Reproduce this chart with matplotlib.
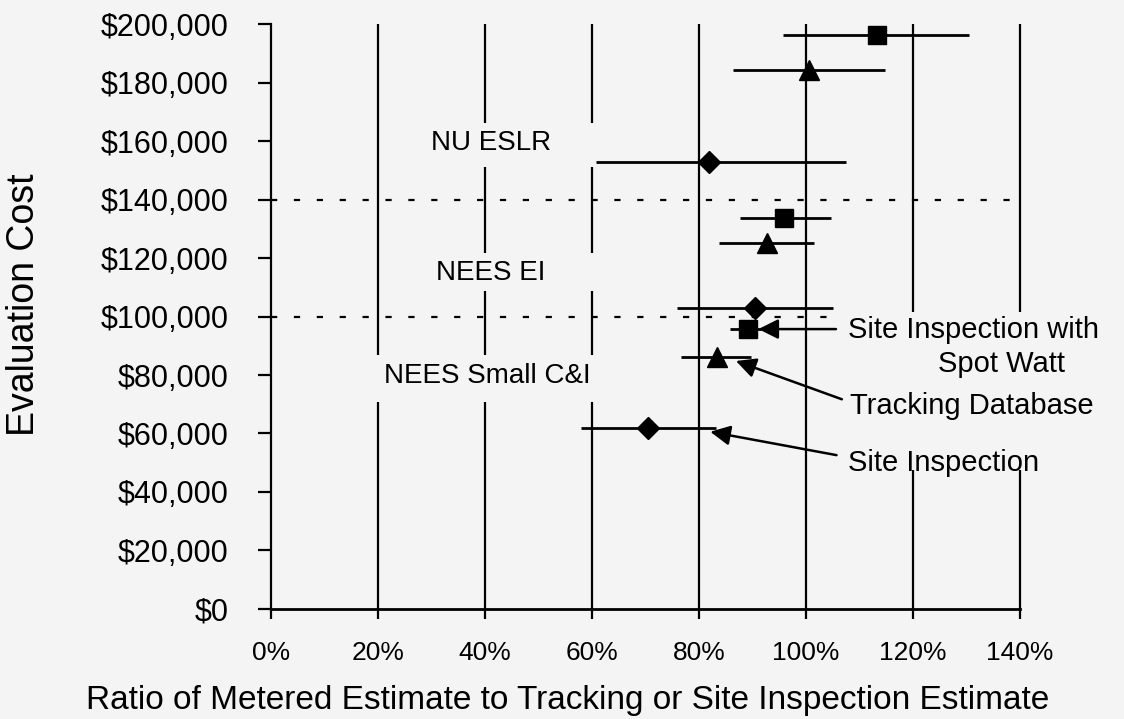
import matplotlib.pyplot as plt
from matplotlib.patches import Rectangle
from matplotlib.ticker import FuncFormatter

plt.rcParams['font.family'] = ['Liberation Sans', 'DejaVu Sans']

BG = '#f4f4f4'

# evaluation cost ($) vs ratio of metered estimate, with low/high range
# site inspection with spot watt (squares)
spot_cost = [196300, 133600, 95700]
spot_ratio = [1.132, 0.959, 0.892]
spot_lo = [0.957, 0.877, 0.858]
spot_hi = [1.305, 1.047, 0.915]

# tracking database (triangles)
track_cost = [184300, 125200, 86000]
track_ratio = [1.006, 0.927, 0.833]
track_lo = [0.864, 0.838, 0.767]
track_hi = [1.148, 1.015, 0.898]

# site inspection (diamonds)
site_cost = [152800, 103000, 62000]
site_ratio = [0.818, 0.905, 0.705]
site_lo = [0.607, 0.758, 0.579]
site_hi = [1.074, 1.050, 0.832]

programs = ['NU ESLR', 'NEES EI', 'NEES Small C&I']
program_breaks = [140000, 100000]

x_ticks = [0.0, 0.2, 0.4, 0.6, 0.8, 1.0, 1.2, 1.4]
y_ticks = list(range(0, 200001, 20000))

fig = plt.figure(figsize=(11.24, 7.19), dpi=100, facecolor=BG)
ax = fig.add_axes([0.2411, 0.1530, 0.6664, 0.8136], facecolor=BG)
ax.set_xlim(0, 1.4)
ax.set_ylim(0, 200000)

# vertical grid
ax.vlines(x_ticks[1:], 0, 200000, colors='black', lw=1.6, zorder=0.5, clip_on=False)
# dotted separators between programs
for yb in program_breaks:
    ax.plot([0, 1.4], [yb, yb], color='black', lw=1.6, ls=(0, (2.8, 7.5)), zorder=0.6)

# blank boxes behind the labels
masks = [(0.22, 151000, 0.40, 15200),
         (0.22, 108700, 0.40, 13000),
         (0.18, 70800, 0.45, 16000),
         (1.046, 47500, 0.60, 54000)]
for (mx, my, mw, mh) in masks:
    ax.add_patch(Rectangle((mx, my), mw, mh, facecolor=BG, edgecolor='none',
                           zorder=1, clip_on=False))

def bars(r, c, lo, hi, marker, ms):
    err = [[a - b for a, b in zip(r, lo)], [b - a for a, b in zip(r, hi)]]
    ax.errorbar(r, c, xerr=err, fmt=marker, ms=ms, color='black', mec='black',
                elinewidth=2.0, capsize=0, zorder=3)

bars(spot_ratio, spot_cost, spot_lo, spot_hi, 's', 13.5)
bars(track_ratio, track_cost, track_lo, track_hi, '^', 14)
bars(site_ratio, site_cost, site_lo, site_hi, 'D', 11)

# program labels
label_pos = [(0.411, 156900), (0.410, 112500), (0.404, 77300)]
for name, (lx, ly) in zip(programs, label_pos):
    ax.text(lx, ly, name, ha='center', va='baseline', fontsize=20, zorder=4)

# method annotations
arrow = dict(arrowstyle='-|>,head_length=0.6,head_width=0.3', color='black',
             lw=1.8, mutation_scale=20, shrinkA=0, shrinkB=0)
ax.annotate('', xy=(0.911, 95700), xytext=(1.056, 95700), arrowprops=arrow, zorder=4)
ax.annotate('', xy=(0.869, 84800), xytext=(1.067, 71700), arrowprops=arrow, zorder=4)
ax.annotate('', xy=(0.821, 60600), xytext=(1.057, 52600), arrowprops=arrow, zorder=4)

ax.text(1.079, 92800, 'Site Inspection with', fontsize=21, va='baseline', zorder=4, clip_on=False)
ax.text(1.247, 81000, 'Spot Watt', fontsize=21, va='baseline', zorder=4, clip_on=False)
ax.text(1.082, 66700, 'Tracking Database', fontsize=21, va='baseline', zorder=4, clip_on=False)
ax.text(1.079, 47200, 'Site Inspection', fontsize=21, va='baseline', zorder=4, clip_on=False)

ax.set_xticks(x_ticks)
ax.set_yticks(y_ticks)
ax.xaxis.set_major_formatter(FuncFormatter(lambda v, p: '%d%%' % round(v * 100)))
ax.yaxis.set_major_formatter(FuncFormatter(lambda v, p: '${:,.0f}'.format(v)))
ax.tick_params(axis='x', direction='out', length=7, width=1.6, pad=16, labelsize=19)
ax.tick_params(axis='y', direction='out', length=9.5, width=1.6, pad=21, labelsize=22)

for side in ['top', 'right']:
    ax.spines[side].set_visible(False)
ax.spines['left'].set_linewidth(1.6)
ax.spines['bottom'].set_linewidth(2.0)

ax.set_xlabel('Ratio of Metered Estimate to Tracking or Site Inspection Estimate', fontsize=24)
ax.xaxis.set_label_coords(0.3966, -0.13)
ax.set_ylabel('Evaluation Cost', fontsize=27)
ax.yaxis.set_label_coords(-0.306, 0.52)

fig.savefig('out.png', dpi=100, facecolor=BG)
